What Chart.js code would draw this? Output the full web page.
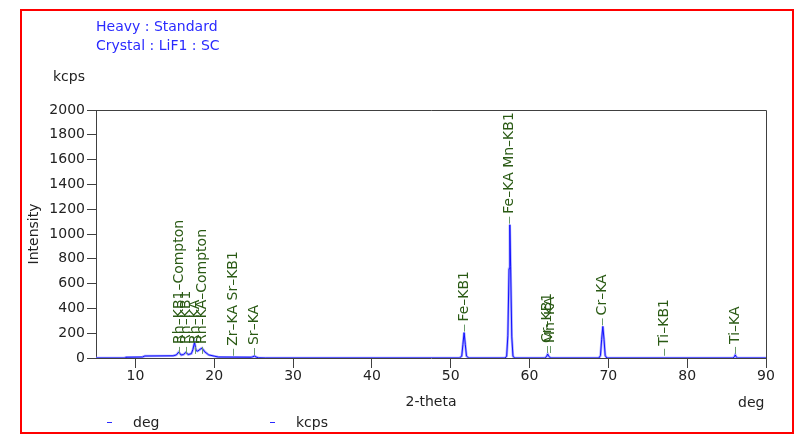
<!DOCTYPE html>
<html>
<head>
<meta charset="utf-8">
<script src="https://cdn.jsdelivr.net/npm/chart.js@4.4.1/dist/chart.umd.min.js"></script>
<style>
  body { margin: 0; background: #fff; font-family: "DejaVu Sans", sans-serif; }
  #wrap { position: relative; width: 807px; height: 443px; }
  #frame { position: absolute; left: 20px; top: 9px; width: 770px; height: 421px; border: 2px solid #f00; }
  canvas { position: absolute; left: 0; top: 0; }
  .t { position: absolute; font-size: 14px; line-height: 16px; white-space: nowrap; color: #222; }
  .head { color: #2a2aff; }
  .dash { position: absolute; width: 5px; height: 1px; background: #2a2aff; }
</style>
</head>
<body>
<div id="wrap">
  <div id="frame"></div>
  <canvas id="xrf" width="807" height="443"></canvas>
  <div class="t head" style="left:96px;top:18px">Heavy : Standard</div>
  <div class="t head" style="left:96px;top:37px">Crystal : LiF1 : SC</div>
  <div class="t" style="left:53px;top:68px">kcps</div>
  <div class="t" style="left:738px;top:394px">deg</div>
  <div class="dash" style="left:107px;top:422px"></div>
  <div class="t" style="left:133px;top:414px">deg</div>
  <div class="dash" style="left:270px;top:422px"></div>
  <div class="t" style="left:296px;top:414px">kcps</div>
</div>
<script>
// scan: 2-theta (deg) vs intensity (kcps)
const degs = [5.0, 8.7, 8.8, 10.9, 11.2, 14.8, 15.2, 15.5, 15.8, 16.1, 16.4, 16.7, 17.1, 17.3, 17.5, 17.7, 17.9, 18.2, 18.45, 18.8, 19.3, 20.0, 20.5,
  24.7, 24.9, 25.1, 25.3, 25.6, 26.5,
  51.1, 51.4, 51.55, 51.7, 51.85, 52.0, 52.3,
  56.9, 57.1, 57.25, 57.4, 57.5, 57.6, 57.75, 57.9, 58.1,
  61.9, 62.15, 62.3, 62.45, 62.7,
  68.8, 69.0, 69.15, 69.3, 69.45, 69.6, 69.8,
  85.8, 86.0, 86.1, 86.2, 86.4, 90.0];
const kcps = [0, 0, 6, 8, 16, 18, 25, 48, 24, 28, 45, 28, 35, 70, 125, 60, 55, 70, 80, 50, 25, 15, 8,
  6, 10, 16, 8, 2, 0,
  0, 15, 110, 205, 110, 15, 0,
  0, 15, 180, 720, 1075, 740, 170, 15, 0,
  0, 10, 32, 12, 0,
  0, 20, 150, 255, 150, 20, 0,
  0, 10, 25, 10, 0, 0];

// element line markers
const lineNames = ['Rh–KB1–Compton', 'Rh–KB1', 'Rh–KA', 'Rh–KA–Compton', 'Zr–KA Sr–KB1', 'Sr–KA',
  'Fe–KB1', 'Fe–KA Mn–KB1', 'Cr–KB1', 'Mn–KA', 'Cr–KA', 'Ti–KB1', 'Ti–KA'];
const linePos = [15.5, 16.4, 17.5, 18.4, 22.4, 25.0, 51.7, 57.45, 62.25, 62.55, 69.25, 77.1, 86.1];
const lineTop = [25, 25, 25, 25, 10, 16, 205, 1075, 32, 32, 255, 10, 25];

const xTicks = [10, 20, 30, 40, 50, 60, 70, 80, 90];
const yTicks = [0, 200, 400, 600, 800, 1000, 1200, 1400, 1600, 1800, 2000];

const font = { family: 'DejaVu Sans', size: 14 };
const axisColor = '#404040';
const pts = degs.map((d, i) => ({ x: d, y: kcps[i] }));

const markers = {
  id: 'markers',
  afterDatasetsDraw(chart) {
    const { ctx, chartArea: a, scales: { x, y } } = chart;
    ctx.save();
    // top and right frame of the plot box
    ctx.strokeStyle = axisColor;
    ctx.lineWidth = 1;
    ctx.beginPath();
    ctx.moveTo(Math.round(a.left), Math.round(a.top) + 0.5);
    ctx.lineTo(Math.round(a.right) + 0.5, Math.round(a.top) + 0.5);
    ctx.lineTo(Math.round(a.right) + 0.5, Math.round(a.bottom));
    ctx.stroke();

    ctx.font = '14px "DejaVu Sans"';
    lineNames.forEach((name, i) => {
      const px = Math.round(x.getPixelForValue(linePos[i])) + 0.5;
      const py = y.getPixelForValue(lineTop[i]);
      ctx.strokeStyle = '#6a9a6a';
      ctx.beginPath();
      ctx.moveTo(px, py - 1);
      ctx.lineTo(px, py - 8);
      ctx.stroke();
      ctx.save();
      ctx.translate(px, py - 11);
      ctx.rotate(-Math.PI / 2);
      ctx.textAlign = 'left';
      ctx.textBaseline = 'middle';
      ctx.fillStyle = '#2a5a14';
      ctx.fillText(name, 0, 0);
      ctx.restore();
    });
    ctx.restore();
  }
};

new Chart(document.getElementById('xrf'), {
  type: 'line',
  data: {
    datasets: [
      { label: 'kcps', data: pts, borderColor: '#1010ff', borderWidth: 1, pointRadius: 0, tension: 0 },
      { label: 'deg', data: pts, borderColor: '#a8a8ff', borderWidth: 2.5, pointRadius: 0, tension: 0 }
    ]
  },
  options: {
    responsive: false,
    animation: false,
    devicePixelRatio: 1,
    layout: { padding: { left: 22, right: 41, top: 110, bottom: 30 } },
    plugins: { legend: { display: false }, tooltip: { enabled: false } },
    scales: {
      x: {
        type: 'linear', min: 5, max: 90,
        afterBuildTicks: s => { s.ticks = xTicks.map(v => ({ value: v })); },
        afterFit: s => { s.height = 55; },
        grid: { drawOnChartArea: false, tickLength: 10, color: axisColor },
        border: { color: axisColor },
        ticks: { padding: 0, color: '#222', font, maxRotation: 0, callback: v => String(v) },
        title: { display: true, text: '2-theta', color: '#222', font, padding: { top: 0, bottom: 2 } }
      },
      y: {
        min: 0, max: 2000,
        afterBuildTicks: s => { s.ticks = yTicks.map(v => ({ value: v })); },
        afterFit: s => { s.width = 74; },
        grid: { drawOnChartArea: false, tickLength: 9, color: axisColor },
        border: { color: axisColor },
        ticks: { padding: 2, color: '#222', font, callback: v => String(v) },
        title: { display: true, text: 'Intensity', color: '#222', font, padding: { top: 4, bottom: 0 } }
      }
    }
  },
  plugins: [markers]
});
</script>
</body>
</html>
